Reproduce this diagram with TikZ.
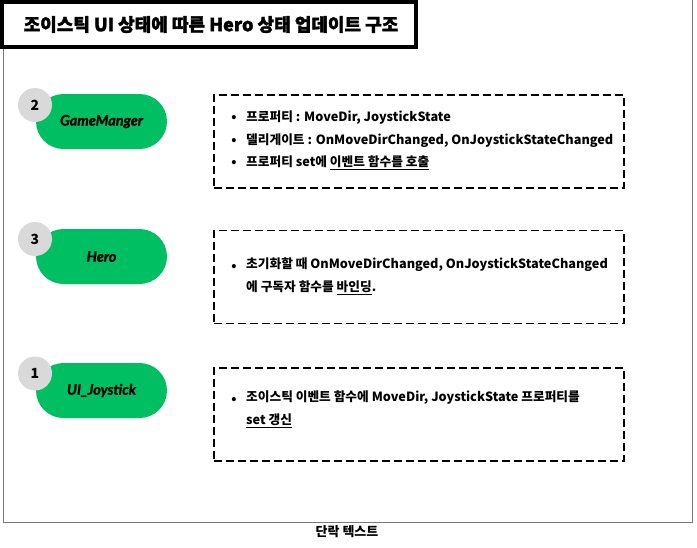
\documentclass[tikz,border=0pt]{standalone}
\usepackage{fontspec}
\setmainfont{Noto Sans CJK KR}
\newfontfamily\pillfont{Lato}[BoldItalicFeatures={FakeBold=1.2}]
\newfontfamily\titlefont{Noto Sans CJK KR}[BoldFeatures={FakeBold=1.8}]
\definecolor{pillgreen}{HTML}{00BF63}
\definecolor{badgegray}{HTML}{D9D9D9}
\definecolor{framegray}{HTML}{7A7A7A}
\tikzset{
  pill/.style={fill=pillgreen, draw=none, minimum width=131pt, minimum height=55pt, rounded corners=27.5pt, font=\pillfont\bfseries\itshape\fontsize{14.5}{16}\selectfont, inner sep=0pt},
  badge/.style={circle, fill=badgegray, draw=none, minimum size=34pt, font=\bfseries\fontsize{14}{16}\selectfont, inner sep=0pt},
  dbox/.style={draw=black, line width=1.4pt, dash pattern=on 8pt off 4pt, minimum width=410pt, minimum height=93pt, inner sep=0pt},
  btxt/.style={anchor=west, font=\bfseries\fontsize{12.7}{23}\selectfont, inner sep=0pt, align=left},
  bul/.style={font=\bfseries\fontsize{13}{15}\selectfont, inner sep=0pt}
}
\begin{document}
\begin{tikzpicture}[x=1pt,y=-1pt]
\useasboundingbox (0,0) rectangle (697,547);
\draw[framegray, line width=1pt] (3.5,0) -- (3.5,522.5) -- (692.5,522.5) -- (692.5,0);
\node[draw=black, line width=3.6pt, fill=white, minimum width=414pt, minimum height=45pt, inner sep=0pt, font=\titlefont\bfseries\fontsize{18}{20}\selectfont] (title) at (209,24.5) {\hspace*{4pt}조이스틱 UI 상태에 따른 Hero 상태 업데이트 구조};

% pills
\node[pill] (gm) at (101.5,121.5) {GameManger};
\node[badge] (b2) at (35,105) {2};
\node[pill] (hero) at (101.5,256.5) {Hero};
\node[badge] (b3) at (35,239) {3};
\node[pill] (joy) at (101.5,390.5) {UI\_Joystick};
\node[badge] (b1) at (35,373.5) {1};

% dashed boxes
\node[dbox] (d1) at (419,141.5) {};
\node[dbox] (d2) at (419,277) {};
\node[dbox] (d3) at (419,414.5) {};

% box 1 text
\node[bul] (p1a) at (234,118) {•};
\node[btxt] (t1a) at (246,118) {프로퍼티 : MoveDir, JoystickState};
\node[bul] (p1b) at (234,141) {•};
\node[btxt] (t1b) at (246,141) {델리게이트 : OnMoveDirChanged, OnJoystickStateChanged};
\node[bul] (p1c) at (234,163) {•};
\node[btxt] (t1c) at (246,163) {프로퍼티 set에 \underline{이벤트 함수를 호출}};

% box 2 text
\node[bul] (p2) at (234,267) {•};
\node[btxt, anchor=north west] (t2) at (246,258) {초기화할 때 OnMoveDirChanged, OnJoystickStateChanged\\에 구독자 함수를 \underline{바인딩}.};

% box 3 text
\node[bul] (p3) at (234,400) {•};
\node[btxt, anchor=north west] (t3) at (246,391) {조이스틱 이벤트 함수에 MoveDir, JoystickState 프로퍼티를\\\underline{set 갱신}};

\node[font=\bfseries\fontsize{13}{15}\selectfont, inner sep=0pt] (foot) at (347,532) {단락 텍스트};
\end{tikzpicture}
\end{document}
